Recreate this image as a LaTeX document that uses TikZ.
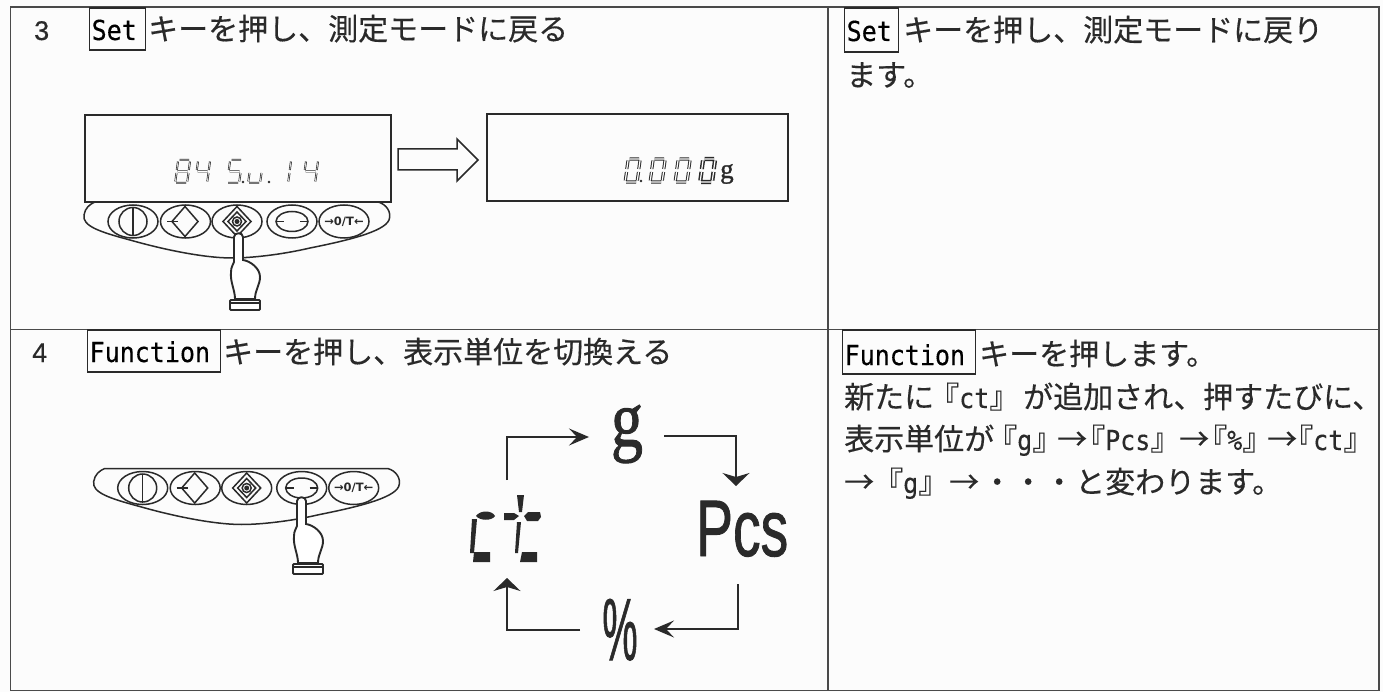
\documentclass[tikz,border=0pt]{standalone}
\usepackage{fontspec}
\usepackage{graphicx}
\usetikzlibrary{arrows.meta}
\setmainfont[FakeBold=0.35]{Noto Sans CJK JP}
\newfontfamily\lat[FakeBold=0.3]{DejaVu Sans Mono}
\newfontfamily\dvs{DejaVu Sans}
\newfontfamily\lsans[FakeBold=0.5]{Liberation Sans}
\newfontfamily\lsansheavy[FakeBold=1.2]{Liberation Sans}
\newfontfamily\lserif[FakeBold=1.2]{Liberation Serif}
\definecolor{ink}{HTML}{2A2A2A}
\newcommand{\K}[1]{\scalebox{1}[1.1]{\lat\fontsize{25}{30}\selectfont #1}}
\newcommand{\LB}{\hbox to 14pt{\hss 『}}
\newcommand{\RB}{\hbox to 14pt{』\hss}}
\def\sa{(4.5,0)--(14,0)}
\def\sb{(15,1.5)--(13.8,10)}
\def\sc{(13.5,13)--(12.3,21.5)}
\def\sd{(1,23)--(11,23)}
\def\se{(1.5,13)--(0.3,21.5)}
\def\sf{(3,1.5)--(1.8,10)}
\def\sg{(2.5,11.5)--(12.5,11.5)}
\tikzset{
  frame/.style={draw=ink!85!white,line width=1.8pt},
  keybox/.style={draw=ink,line width=1.3pt,anchor=base west,inner sep=0pt,align=left},
  cjk/.style={anchor=base west,inner sep=0pt,text=ink,font=\fontsize{30}{32}\selectfont},
  num/.style={anchor=base west,inner sep=0pt,text=ink,font=\lsans\fontsize{27}{30}\selectfont},
  thin line/.style={draw=ink,line width=1.5pt},
  segline/.style={draw=ink,line width=.7pt,double=white,double distance=.6pt},
  segbold/.style={draw=ink,line width=1pt,double=white,double distance=1.2pt},
  segheavy/.style={draw=ink,line width=1.5pt,double=white,double distance=1.2pt},
  cych/.style={draw=ink,line width=1.4pt,-{Stealth[length=20pt,width=17pt,inset=8pt]}},
  cycv/.style={draw=ink,line width=1.4pt,-{Stealth[length=13pt,width=27pt,inset=4pt]}},
}
\newcommand{\digit}[3][segline]{\begin{scope}[shift={#2}]\draw[#1] #3;\end{scope}}
\newcommand{\keypad}[3]{%
\begin{scope}[shift={(#1,#2)}]
  \draw[thin line] (95,202) -- (378,202) .. controls (386,204) and (392,212) .. (389,220)
     .. controls (384,232) and (345,241) .. (310,248) .. controls (280,255) and (250,258) .. (232,258)
     .. controls (205,258) and (165,250) .. (130,240) .. controls (100,232) and (82,226) .. (84,215)
     .. controls (85,208) and (90,204) .. (95,202) -- cycle;
  \foreach \cx in {133,185.5,237,292,344}
    \draw[thin line] (\cx,221.5) ellipse [x radius=25,y radius=16.5];
  \draw[thin line] (133,221.5) circle [radius=14];
  \draw[thin line] (133,207) -- (133,236);
  \draw[thin line] (185,206.5) -- (198,221.5) -- (185,236.5) -- (172,221.5) -- cycle;
  \draw[thin line] (167,221.5) -- (178,221.5);
  \draw[thin line] (237,206.5) -- (251,221.5) -- (237,236.5) -- (223,221.5) -- cycle;
  \draw[thin line] (237,212) -- (246,221.5) -- (237,231) -- (228,221.5) -- cycle;
  \draw[thin line] (237,221.5) circle [radius=4.5];
  \fill[ink] (237,221.5) circle [radius=2.5];
  \draw[thin line] (292,221.5) ellipse [x radius=16,y radius=10];
  \draw[thin line] (276,221.5) -- (284,221.5) (300,221.5) -- (308,221.5);
  \node[inner sep=0pt,text=ink,font=\dvs\bfseries\fontsize{11.5}{12}\selectfont] (#3) at (344,221.5) {→0/T←};
\end{scope}}
\newcommand{\hand}[2]{%
\begin{scope}[shift={(#1,#2)}]
  \draw[draw=ink,line width=1.9pt,fill=white] (234,237) .. controls (234,232) and (243,232) .. (243,237)
    -- (243,260) .. controls (250,261) and (260,268) .. (260,277)
    .. controls (260,285) and (255,290) .. (255,299) -- (235,299)
    .. controls (235,290) and (230,282) .. (231,272) .. controls (231,267) and (233,265) .. (234,262) -- cycle;
  \draw[draw=ink,line width=1.9pt,fill=white,rounded corners=1pt] (230,300) rectangle (260,310);
  \draw[ink,line width=1.2pt] (231,303) -- (259,303);
\end{scope}}
\begin{document}
\begin{tikzpicture}[x=1pt,y=-1pt]
\useasboundingbox (0,0) rectangle (1383,692);
\fill[white!99!black] (0,0) rectangle (1383,692);
% table
\draw[frame] (10.5,7) rectangle (1379,690.5);
\draw[frame] (10.5,329.5) -- (1379,329.5);
\draw[frame] (828,7) -- (828,690.5);
% row 3, left
\node[num] (n3) at (34,40) {3};
\node[keybox,text width=56pt,text height=32pt,text depth=10pt] (setA) at (89,40) {\hspace{2pt}\K{Set}};
\node[cjk] (t3) at (148,40) {キーを押し、測定モードに戻る};
% row 4, left
\node[num] (n4) at (32,362) {4};
\node[keybox,text width=133pt,text height=32pt,text depth=10pt] (fnA) at (87,362) {\hspace{2pt}\K{Function}};
\node[cjk] (t4) at (223,363) {キーを押し、表示単位を切換える};
% row 3, right
\node[keybox,text width=54pt,text height=33pt,text depth=11pt] (setB) at (844,41) {\hspace{2pt}\K{Set}};
\node[cjk] (r3a) at (903,41) {キーを押し、測定モードに戻り};
\node[cjk] (r3b) at (846,86) {ます。};
% row 4, right
\node[keybox,text width=133pt,text height=35pt,text depth=9pt] (fnB) at (842,365) {\hspace{2pt}\K{Function}};
\node[cjk] (r4a) at (979,365) {キーを押します。};
\node[cjk] (r4b) at (844,408) {\makebox[101pt][l]{新たに}\makebox[78pt][l]{\LB\K{ct}\RB}\makebox[180pt][l]{が追加され、}押すたびに、};
\node[cjk] (r4c) at (844,450) {\makebox[159pt][l]{表示単位が}\makebox[54pt][l]{\LB\K{g}\RB}\makebox[34pt][l]{→}\makebox[88pt][l]{\LB\K{Pcs}\RB}\makebox[34pt][l]{→}\makebox[54pt][l]{\LB\K{\%}\RB}\makebox[32pt][l]{→}\LB\K{ct}\RB};
\node[cjk] (r4d) at (844,493) {\makebox[45pt][l]{→}\makebox[60pt][l]{\LB\K{g}\RB}\makebox[33pt][l]{→}\makebox[31pt][l]{・}\makebox[31pt][l]{・}\makebox[31pt][l]{・}と変わります。};
% displays
\draw[thin line] (85,115) rectangle (391,202);
\draw[thin line] (487,114) rectangle (788,201);
\draw[thin line,line join=miter] (398,149) -- (457,149) -- (457,139) -- (478,160) -- (457,181) -- (457,170) -- (398,170) -- cycle;
\digit{(175,160)}{\sa\sb\sc\sd\se\sf\sg}
\digit{(195,160)}{\sf\sg\sb\sc}
\digit{(227,160)}{\sa\sf\sg\sc\sd}
\fill[ink] (243,182) circle [radius=1.3];
\digit{(248,160)}{\se\sd\sc}
\fill[ink] (269,182) circle [radius=1.3];
\digit{(276,160)}{\sb\sc}
\digit{(303,160)}{\sf\sg\sb\sc}
\digit[segbold]{(625,159)}{\sa\sb\sc\sd\se\sf}
\fill[ink] (641,181) circle [radius=1.4];
\digit[segbold]{(650,159)}{\sa\sb\sc\sd\se\sf}
\digit[segbold]{(675,159)}{\sa\sb\sc\sd\se\sf}
\digit[segheavy]{(700,159)}{\sa\sb\sc\sd\se\sf}
\node[anchor=base west,inner sep=0pt,text=ink,font=\lserif\fontsize{27}{28}\selectfont] (gsmall) at (720,178) {g};
% keypads and hands
\keypad{0}{0}{ztA}
\hand{0}{0}
\keypad{9.7}{266.5}{ztB}
\hand{63}{264}
% unit cycle
\node[anchor=base,inner sep=0pt,text=ink] (g) at (627,446) {\scalebox{.8}[1]{\lserif\fontsize{80}{80}\selectfont g}};
\node[anchor=base west,inner sep=0pt,text=ink] (pcs) at (696,556) {\scalebox{.69}[1]{\lsansheavy\fontsize{80}{80}\selectfont Pcs}};
\node[anchor=base,inner sep=0pt,text=ink] (pct) at (620,660) {\scalebox{.45}[1]{\lsansheavy\fontsize{88}{88}\selectfont\%}};
% the ct readout, in segments
\begin{scope}[ink]
  \fill (476,516) .. controls (480,510) and (492,510) .. (495,516) .. controls (492,521) and (480,521) .. cycle;
  \fill (472,519) -- (477,519) -- (474,553) -- (470,553) -- cycle;
  \fill (474,552) -- (490,552) -- (490,562) -- (473,562) -- cycle;
  \fill (517,495) -- (524,495) -- (522,512) -- (519,512) -- cycle;
  \fill (504,513) -- (514,513) -- (519,516) -- (514,520) -- (504,520) -- cycle;
  \fill (524,516) -- (528,512) -- (540,512) -- (541,517) -- (538,521) -- (527,521) -- cycle;
  \fill (517,522) -- (521,522) -- (518,553) -- (515,553) -- cycle;
  \fill (522,552) -- (537,552) -- (537,562) -- (520,562) -- cycle;
\end{scope}
\coordinate (ctN) at (507,480);
\coordinate (ctS) at (507,578);
\coordinate (gW) at (589,437);
\coordinate (gE) at (664,436);
\coordinate (pcsN) at (736,486);
\coordinate (pcsS) at (738,584);
\coordinate (pctE) at (654,629);
\coordinate (pctW) at (580,630);
\draw[cych] (ctN) |- (gW);
\draw[cycv] (gE) -| (pcsN);
\draw[cych] (pcsS) |- (pctE);
\draw[cycv] (pctW) -| (ctS);
\end{tikzpicture}
\end{document}
